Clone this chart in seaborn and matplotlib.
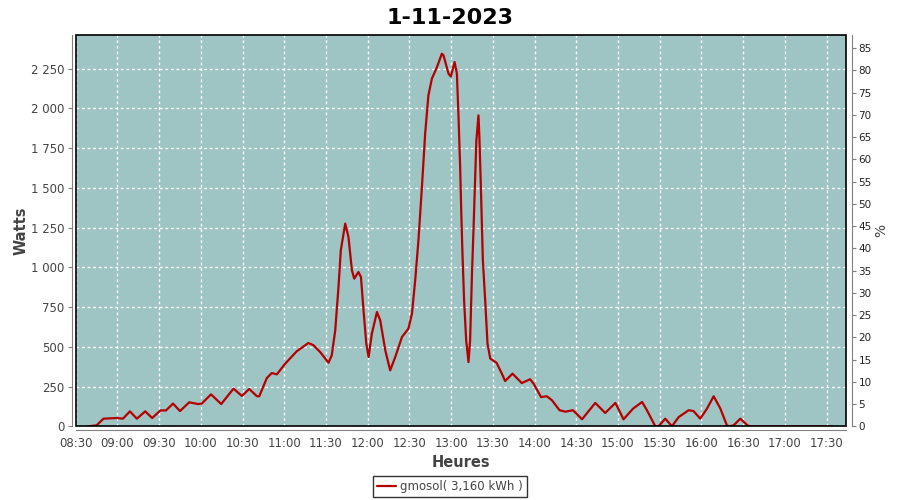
import pandas as pd
import numpy as np
import matplotlib
matplotlib.use("Agg")
import matplotlib.pyplot as plt
import matplotlib.dates as mdates
from matplotlib.ticker import FuncFormatter, MultipleLocator
from matplotlib.patches import Rectangle
import seaborn as sns

# data: time of day and power in watts
heures = ["08:39:00", "08:45:00", "08:50:00", "08:59:30", "09:04:00", "09:09:00", "09:14:00", "09:20:00",
          "09:25:00", "09:31:00", "09:35:00", "09:40:00", "09:45:00", "09:51:40", "09:58:00", "10:00:40",
          "10:07:20", "10:14:40", "10:23:30", "10:29:30", "10:34:50", "10:40:20", "10:42:00", "10:47:30",
          "10:51:00", "10:54:40", "11:00:40", "11:09:00", "11:17:20", "11:21:00", "11:25:50", "11:31:50",
          "11:34:10", "11:36:40", "11:39:00", "11:40:40", "11:43:50", "11:46:10", "11:48:40", "11:50:20",
          "11:53:20", "11:55:10", "11:57:00", "11:59:00", "12:00:40", "12:03:00", "12:06:40", "12:09:00",
          "12:12:40", "12:16:10", "12:19:50", "12:24:40", "12:29:20", "12:31:50", "12:34:10", "12:36:30",
          "12:39:00", "12:41:20", "12:43:40", "12:46:10", "12:49:50", "12:53:20", "12:54:30", "12:58:10",
          "12:59:50", "13:02:30", "13:04:10", "13:05:20", "13:06:30", "13:07:20", "13:08:10", "13:09:20",
          "13:10:50", "13:12:30", "13:13:40", "13:15:00", "13:16:10", "13:18:10", "13:19:40", "13:20:20",
          "13:21:20", "13:22:50", "13:24:30", "13:26:10", "13:28:10", "13:32:40", "13:36:30", "13:38:50",
          "13:44:10", "13:50:50", "13:56:50", "13:59:20", "14:04:40", "14:08:50", "14:12:30", "14:18:00",
          "14:22:10", "14:27:40", "14:34:10", "14:43:40", "14:50:50", "14:58:10", "15:04:00", "15:10:50",
          "15:17:20", "15:20:50", "15:26:50", "15:29:10", "15:34:00", "15:38:50", "15:43:40", "15:50:50",
          "15:54:20", "15:59:10", "16:04:00", "16:08:50", "16:13:40", "16:18:20", "16:20:00", "16:23:10",
          "16:28:00", "16:33:10", "16:35:00", "17:34:00"]
watts = [0, 6, 48, 52, 48, 94, 48, 94,
         52, 100, 100, 143, 96, 151, 140, 143,
         201, 140, 237, 191, 235, 189, 189, 304,
         335, 327, 394, 472, 524, 510, 467, 400,
         447, 604, 876, 1107, 1275, 1191, 981, 929,
         971, 939, 730, 520, 436, 583, 719, 667,
         478, 352, 436, 562, 615, 709, 918, 1170,
         1505, 1841, 2082, 2187, 2260, 2344, 2334, 2218,
         2201, 2292, 2218, 1946, 1631, 1338, 1086, 793,
         541, 404, 541, 960, 1254, 1799, 1956, 1820,
         1527, 1044, 793, 520, 426, 400, 331, 285,
         331, 272, 296, 268, 184, 189, 164, 101,
         92, 101, 44, 147, 84, 147, 44, 111,
         153, 101, 0, 0, 48, 0, 58, 101,
         96, 48, 111, 189, 111, 6, 0, 6,
         48, 6, 0, 0]

jour = "2023-11-01"
titre = "1-11-2023"
legende = "gmosol( 3,160 kWh )"
puissance_max = 2800  # 100 % on the right axis

df = pd.DataFrame({"heure": pd.to_datetime([jour + " " + h for h in heures]), "watts": watts})

sns.set_style("white")
plt.rcParams['font.family'] = ['DejaVu Sans']

fond = "#9ec4c4"
rouge = "#b40000"
gris = "#808080"
texte = "#444444"

fig = plt.figure(figsize=(9, 5), dpi=100)
ax = fig.add_axes([0.0841, 0.1474, 0.8559, 0.782])
ax.set_facecolor(fond)

sns.lineplot(data=df, x="heure", y="watts", ax=ax, color=rouge, linewidth=1.6, label=legende, legend=False)

x0 = pd.Timestamp(jour + " 08:30")
x1 = pd.Timestamp(jour + " 17:44")
ax.set_xlim(x0, x1)
ymax = 2460
ax.set_ylim(0, ymax)

ax.xaxis.set_major_locator(mdates.MinuteLocator(byminute=[0, 30]))
ax.xaxis.set_major_formatter(mdates.DateFormatter("%H:%M"))
ax.yaxis.set_major_locator(MultipleLocator(250))
ax.yaxis.set_major_formatter(FuncFormatter(lambda v, p: f"{int(v):,}".replace(",", " ")))

ax.grid(True, color="white", linestyle=(0, (2, 2)), linewidth=1)

for s in ["top", "right"]:
    ax.spines[s].set_visible(False)
for s in ["left", "bottom"]:
    ax.spines[s].set_position(("outward", 3))
    ax.spines[s].set_color(gris)
ax.tick_params(axis="both", direction="out", length=3, color=gris, labelcolor=texte, labelsize=8.5, pad=2)

ax.set_xlabel("Heures", fontsize=10.5, fontweight="bold", color=texte, labelpad=3)
ax.set_ylabel("Watts", fontsize=10.5, fontweight="bold", color=texte, labelpad=2)

# right axis in percent of the max power
ax2 = ax.twinx()
ax2.set_ylim(0, ymax * 100 / puissance_max)
ax2.yaxis.set_major_locator(MultipleLocator(5))
for s in ["top", "left", "bottom"]:
    ax2.spines[s].set_visible(False)
ax2.spines["right"].set_position(("outward", 4))
ax2.spines["right"].set_color(gris)
ax2.tick_params(axis="y", direction="out", length=3, color=gris, labelcolor="#222222", labelsize=7.5, pad=2)
ax2.set_ylabel("%", fontsize=10, color=texte, labelpad=2)

# plot border
ax.add_patch(Rectangle((0, 0), 1, 1, transform=ax.transAxes, fill=False, edgecolor="black",
                       linewidth=1.2, zorder=5, clip_on=False))

fig.suptitle(titre, fontsize=16, fontweight="bold", x=0.5, y=0.985, color="black")

handles, labels = ax.get_legend_handles_labels()
leg = fig.legend(handles, labels, loc="lower center", bbox_to_anchor=(0.5, -0.006), frameon=True,
                 fancybox=False, edgecolor="black", fontsize=8.5, handlelength=1.6, borderpad=0.35,
                 handletextpad=0.4, labelcolor=texte)
leg.get_frame().set_linewidth(1)

fig.savefig("out.png", dpi=100, facecolor="white")
